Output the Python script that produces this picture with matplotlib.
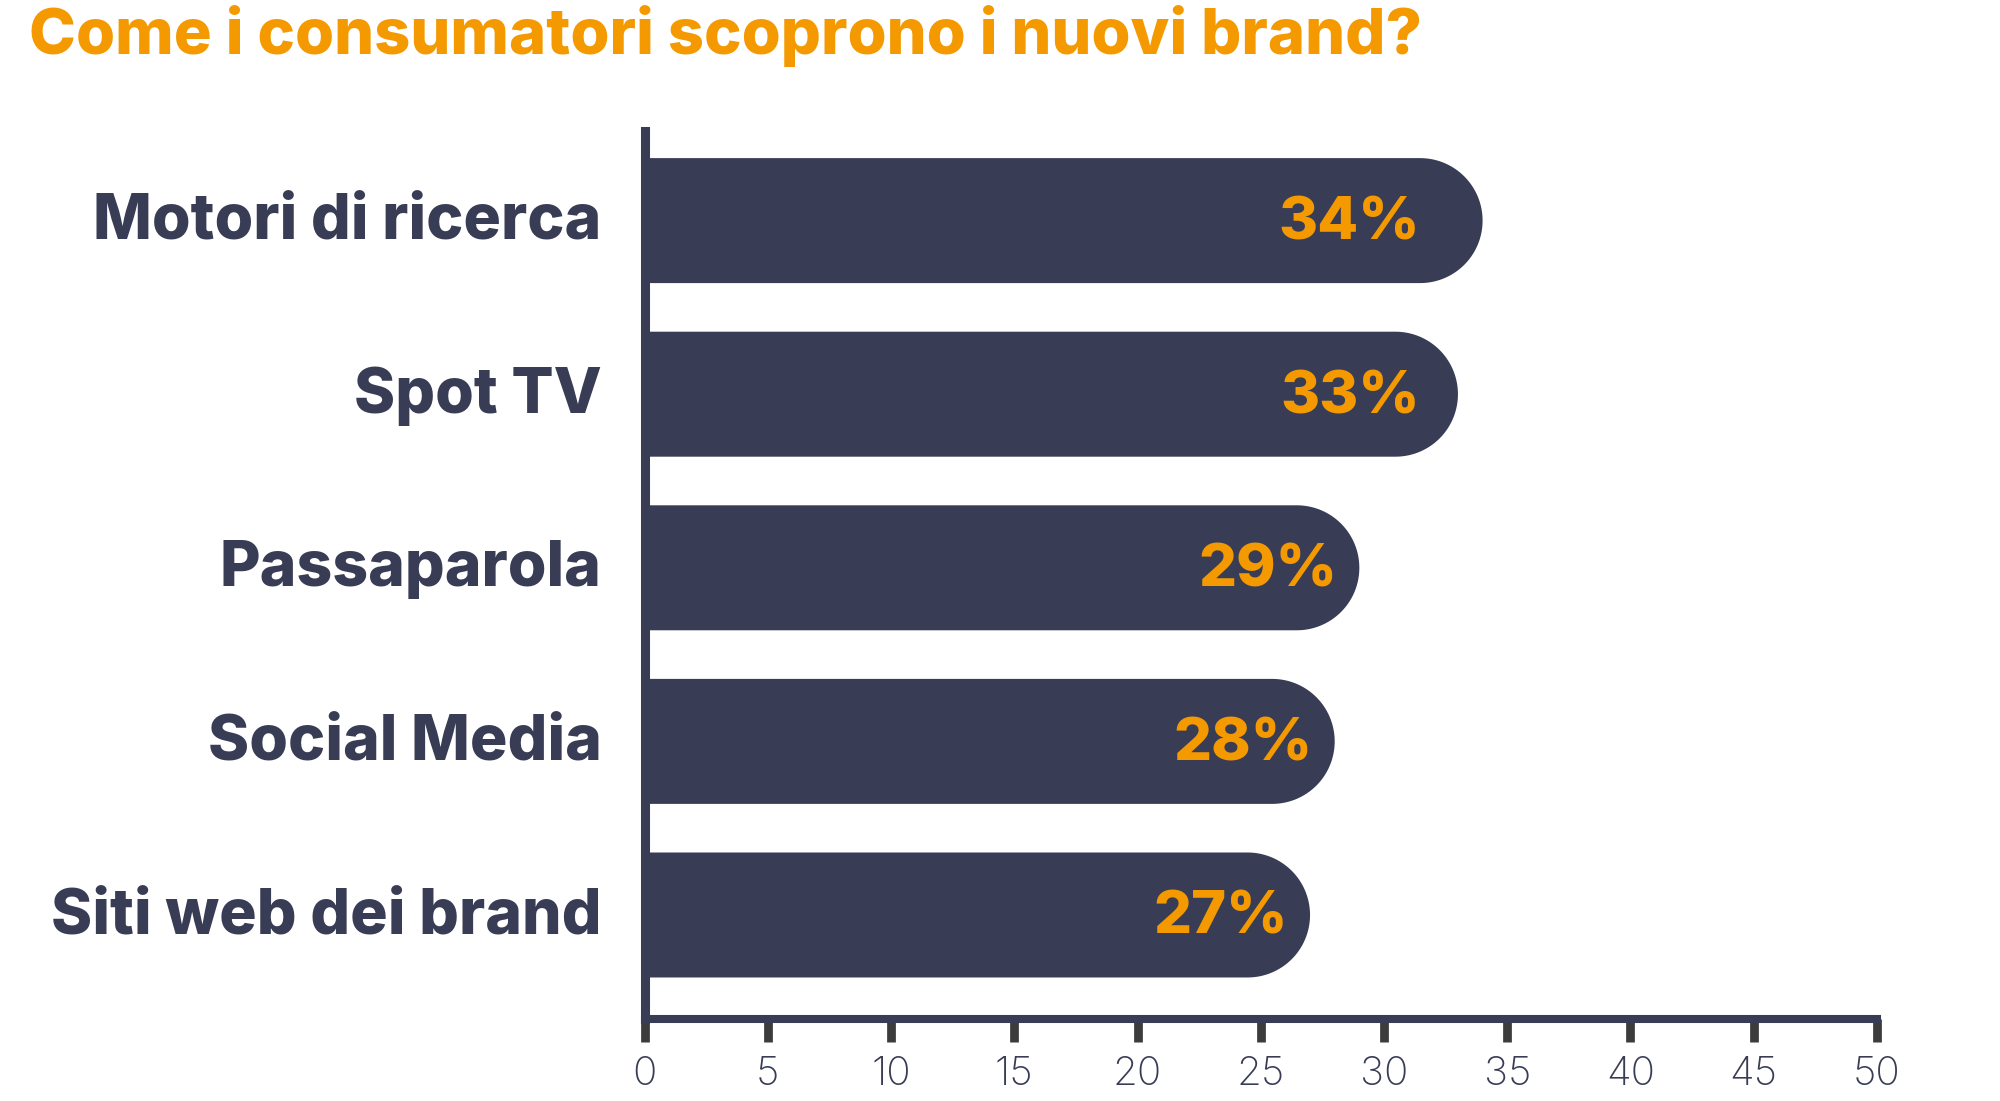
import numpy as np
import matplotlib
matplotlib.use("Agg")
import matplotlib.pyplot as plt
from matplotlib.patches import Polygon

TITLE = "Come i consumatori scoprono i nuovi brand?"
categories = ["Motori di ricerca", "Spot TV", "Passaparola", "Social Media", "Siti web dei brand"]
values = [34, 33, 29, 28, 27]
value_labels = ["34%", "33%", "29%", "28%", "27%"]
xticks = [0, 5, 10, 15, 20, 25, 30, 35, 40, 45, 50]

NAVY = "#383c55"
ORANGE = "#f49a00"
TICK_GREY = "#3c3c3c"
FONT = ["Inter", "DejaVu Sans"]

BAR_H = 0.72


def rounded_bar(ax, y, v, h, color):
    # rectangle with a semicircular right end, radius = half the bar height in pixels
    p0 = ax.transData.transform((0, 0))
    p1 = ax.transData.transform((1, 1))
    px_x = abs(p1[0] - p0[0])
    px_y = abs(p1[1] - p0[1])
    r_px = h / 2 * px_y
    rx = r_px / px_x
    cx = v - rx
    theta = np.linspace(np.pi / 2, -np.pi / 2, 60)
    arc = np.column_stack([cx + rx * np.cos(theta), y - h / 2 * np.sin(theta)])
    pts = np.vstack([[0, y - h / 2], arc, [0, y + h / 2]])
    ax.add_patch(Polygon(pts, closed=True, facecolor=color, edgecolor="none", zorder=2))


def main():
    fig = plt.figure(figsize=(20, 11.01), dpi=100)
    ax = fig.add_axes([0.32225, 0.0745, 0.61625, 0.8065])

    ax.set_xlim(0, 50)
    ax.set_ylim(4.599, -0.516)

    for i, v in enumerate(values):
        rounded_bar(ax, i, v, BAR_H, NAVY)
        x_lab = min(v - 0.9, 31.45)
        ax.annotate(value_labels[i], xy=(x_lab, i), xytext=(0, -13.6), textcoords="offset points",
                    ha="right", va="baseline", color=ORANGE, fontsize=43,
                    fontweight="heavy", family=FONT, zorder=3)
        ax.annotate(categories[i], xy=(0, i), xytext=(-31, -13.2), textcoords="offset points",
                    ha="right", va="baseline", color=NAVY, fontsize=45,
                    fontweight="heavy", family=FONT, annotation_clip=False)

    for side in ["top", "right"]:
        ax.spines[side].set_visible(False)
    ax.spines["left"].set_color(NAVY)
    ax.spines["left"].set_linewidth(6.5)
    ax.spines["bottom"].set_color(NAVY)
    ax.spines["bottom"].set_linewidth(5.8)
    ax.spines["left"].set_zorder(4)
    ax.spines["bottom"].set_zorder(4)

    ax.set_yticks([])
    ax.set_xticks(xticks)
    ax.set_xticklabels([str(t) for t in xticks], family=FONT, fontweight="light",
                       fontsize=29, color=NAVY)
    ax.tick_params(axis="x", length=16.5, width=6.3, color=TICK_GREY, pad=10)
    ax.xaxis.get_major_ticks()[0].tick1line.set_color(NAVY)

    fig.text(0.0145, 1 - 54 / 1101, TITLE, ha="left", va="baseline", color=ORANGE,
             fontsize=45.5, fontweight="heavy", family=FONT)

    fig.savefig("out.png", dpi=100, facecolor="white")


if __name__ == "__main__":
    main()
